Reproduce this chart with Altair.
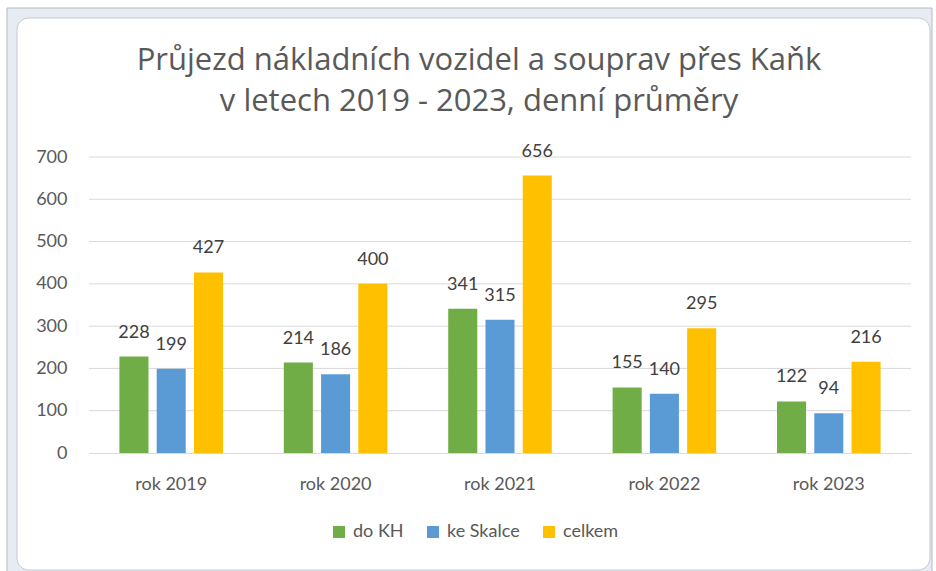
import altair as alt
import pandas as pd

years = ["rok 2019", "rok 2020", "rok 2021", "rok 2022", "rok 2023"]
series = ["do KH", "ke Skalce", "celkem"]
do_kh = [228, 214, 341, 155, 122]
ke_skalce = [199, 186, 315, 140, 94]
celkem = [427, 400, 656, 295, 216]
colors = ["#70AD47", "#5B9BD5", "#FFC000"]
y_ticks = [0, 100, 200, 300, 400, 500, 600, 700]

rows = []
for i, y in enumerate(years):
    for s, vals in zip(series, [do_kh, ke_skalce, celkem]):
        rows.append({"rok": y, "serie": s, "hodnota": vals[i]})
df = pd.DataFrame(rows)
grid_df = pd.DataFrame({"g": y_ticks[1:]})

FONT = "Lato"
W, H = 822, 296
yscale = alt.Scale(domain=[0, 700])

base = alt.Chart(df).encode(
    x=alt.X("rok:N", sort=years,
            scale=alt.Scale(paddingInner=0.37, paddingOuter=0.185),
            axis=alt.Axis(title=None, labelAngle=0, ticks=False, domainColor="#D9D9D9",
                          labelPadding=22, labelFontSize=18, labelColor="#595959",
                          labelFont=FONT, zindex=1)),
    xOffset=alt.XOffset("serie:N", sort=series, scale=alt.Scale(paddingInner=0.22)),
)

bars = base.mark_bar().encode(
    y=alt.Y("hodnota:Q", scale=yscale,
            axis=alt.Axis(title=None, values=y_ticks, domain=False, ticks=False, grid=False,
                          labelPadding=22, labelFontSize=18,
                          labelColor="#595959", labelFont=FONT, zindex=1)),
    color=alt.Color("serie:N", sort=series,
                    scale=alt.Scale(domain=series, range=colors),
                    legend=alt.Legend(title=None, orient="none", direction="horizontal",
                                      legendX=241, legendY=366, symbolType="square",
                                      symbolSize=144, symbolStrokeWidth=0, labelFontSize=18,
                                      labelColor="#595959", labelFont=FONT, columnPadding=20,
                                      labelOffset=5)),
)

labels = base.mark_text(baseline="middle", dy=-24, fontSize=18, color="#404040", font=FONT).encode(
    y=alt.Y("hodnota:Q"),
    text=alt.Text("hodnota:Q"),
)

grid = alt.Chart(grid_df).mark_rule(color="#D9D9D9", strokeWidth=1).encode(
    y=alt.Y("g:Q", scale=yscale)
)

one = pd.DataFrame({"a": [0]})
outer = alt.Chart(one).mark_rect(
    fill="#E7EBF4", stroke="#B4B8C0", strokeWidth=1, clip=False
).encode(x=alt.value(-82), x2=alt.value(843), y=alt.value(-149), y2=alt.value(416))

inner = alt.Chart(one).mark_rect(
    fill="white", stroke="#C4C8D0", strokeWidth=1, cornerRadius=12, clip=False
).encode(x=alt.value(-72), x2=alt.value(841), y=alt.value(-139), y2=alt.value(413))

chart = alt.layer(outer, inner, grid, bars, labels).properties(
    width=W, height=H,
    autosize=alt.AutoSizeParams(type="none"),
    padding={"left": 89, "top": 157, "right": 25, "bottom": 118},
    title=alt.TitleParams(
        text=["Průjezd nákladních vozidel a souprav přes Kaňk",
              "v letech 2019 - 2023, denní průměry"],
        fontSize=31, font="Open Sans", fontWeight="normal", color="#595959",
        anchor="middle", lineHeight=41, offset=-110, dx=-21,
    ),
).configure_view(stroke=None)

chart.save("out.html", embed_options={"renderer": "svg", "actions": False})
